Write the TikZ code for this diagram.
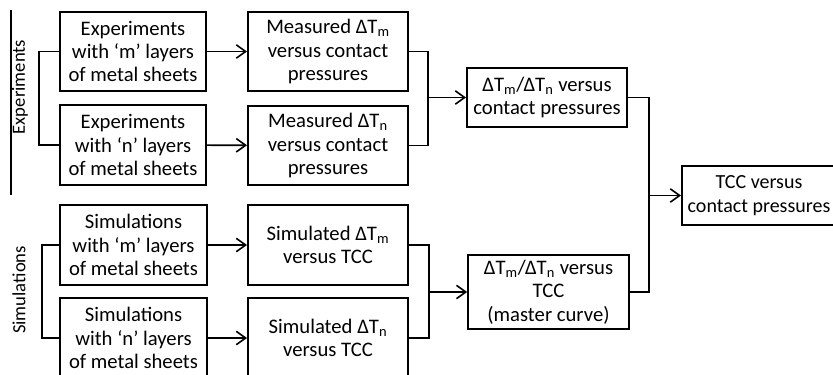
\documentclass[tikz,border=0pt]{standalone}
\usepackage{fontspec}
\setmainfont{Carlito}
\usetikzlibrary{arrows.meta}

\tikzset{
  box/.style={draw, line width=1.5pt, align=center, inner sep=0pt,
    font=\fontsize{15.5}{17.5}\selectfont},
  link/.style={line width=1.2pt},
  arr/.style={link, -{Straight Barb[length=7pt,width=10pt,line width=1.2pt]}},
  side/.style={rotate=90, font=\fontsize{14}{16}\selectfont}
}

\begin{document}
\begin{tikzpicture}[x=0.75pt, y=-0.75pt]
  \useasboundingbox (0,0) rectangle (833,375);
  \clip (0,0) rectangle (833,375);

  % experiments
  \node[box, minimum width=109.5pt, minimum height=59pt] (expm) at (133,51.5)
    {Experiments\\with ‘m’ layers\\of metal sheets};
  \node[box, minimum width=109.5pt, minimum height=60pt] (expn) at (133,145)
    {Experiments\\with ‘n’ layers\\of metal sheets};
  \node[box, minimum width=120pt, minimum height=59pt] (measm) at (328,51.5)
    {Measured ΔT\textsubscript{m}\\versus contact\\pressures};
  \node[box, minimum width=120pt, minimum height=59pt] (measn) at (328,145.5)
    {Measured ΔT\textsubscript{n}\\versus contact\\pressures};
  \node[box, minimum width=120pt, minimum height=44pt] (ratioexp) at (547,97.5)
    {ΔT\textsubscript{m}/ΔT\textsubscript{n} versus\\contact pressures};

  % simulations
  \node[box, minimum width=110pt, minimum height=60pt] (simm) at (133.5,245)
    {Simulations\\with ‘m’ layers\\of metal sheets};
  \node[box, minimum width=110pt, minimum height=60pt] (simn) at (133.5,338)
    {Simulations\\with ‘n’ layers\\of metal sheets};
  \node[box, minimum width=120pt, minimum height=60pt] (simulm) at (328,245)
    {Simulated ΔT\textsubscript{m}\\versus TCC};
  \node[box, minimum width=120pt, minimum height=60pt] (simuln) at (328,338)
    {Simulated ΔT\textsubscript{n}\\versus TCC};
  \node[box, minimum width=120.5pt, minimum height=55.5pt] (ratiosim) at (548.5,292)
    {ΔT\textsubscript{m}/ΔT\textsubscript{n} versus\\TCC\\(master curve)};

  % result, runs off the right edge
  \node[box, minimum width=115.5pt, minimum height=44pt,
    font=\fontsize{15}{17.5}\selectfont] (tcc) at (759,195.5)
    {TCC versus\\contact pressures};

  % side labels
  \draw[line width=1pt] (11,10) -- (11,195);
  \node[side] (lblexp) at (20,87) {Experiments};
  \node[side] (lblsim) at (19,290) {Simulations};

  % brackets on the left
  \draw[link] (expm.west) -- ++(-20,0) |- (expn.west);
  \draw[link] (simm.west) -- ++(-17,0) |- (simn.west);

  \draw[arr] (expm) -- (measm);
  \draw[arr] (expn) -- (measn);
  \draw[arr] (simm) -- (simulm);
  \draw[arr] (simn) -- (simuln);

  % joins
  \coordinate (jexp) at (428,97.5);
  \coordinate (jsim) at (429,292);
  \coordinate (jall) at (649,195.5);
  \draw[link] (measm.east) -| (jexp) |- (measn.east);
  \draw[arr] (jexp) -- (ratioexp);
  \draw[link] (simulm.east) -| (jsim) |- (simuln.east);
  \draw[arr] (jsim) -- (ratiosim);
  \draw[link] (ratioexp.east) -| (jall) |- (ratiosim.east);
  \draw[arr] (jall) -- (tcc);
\end{tikzpicture}
\end{document}
